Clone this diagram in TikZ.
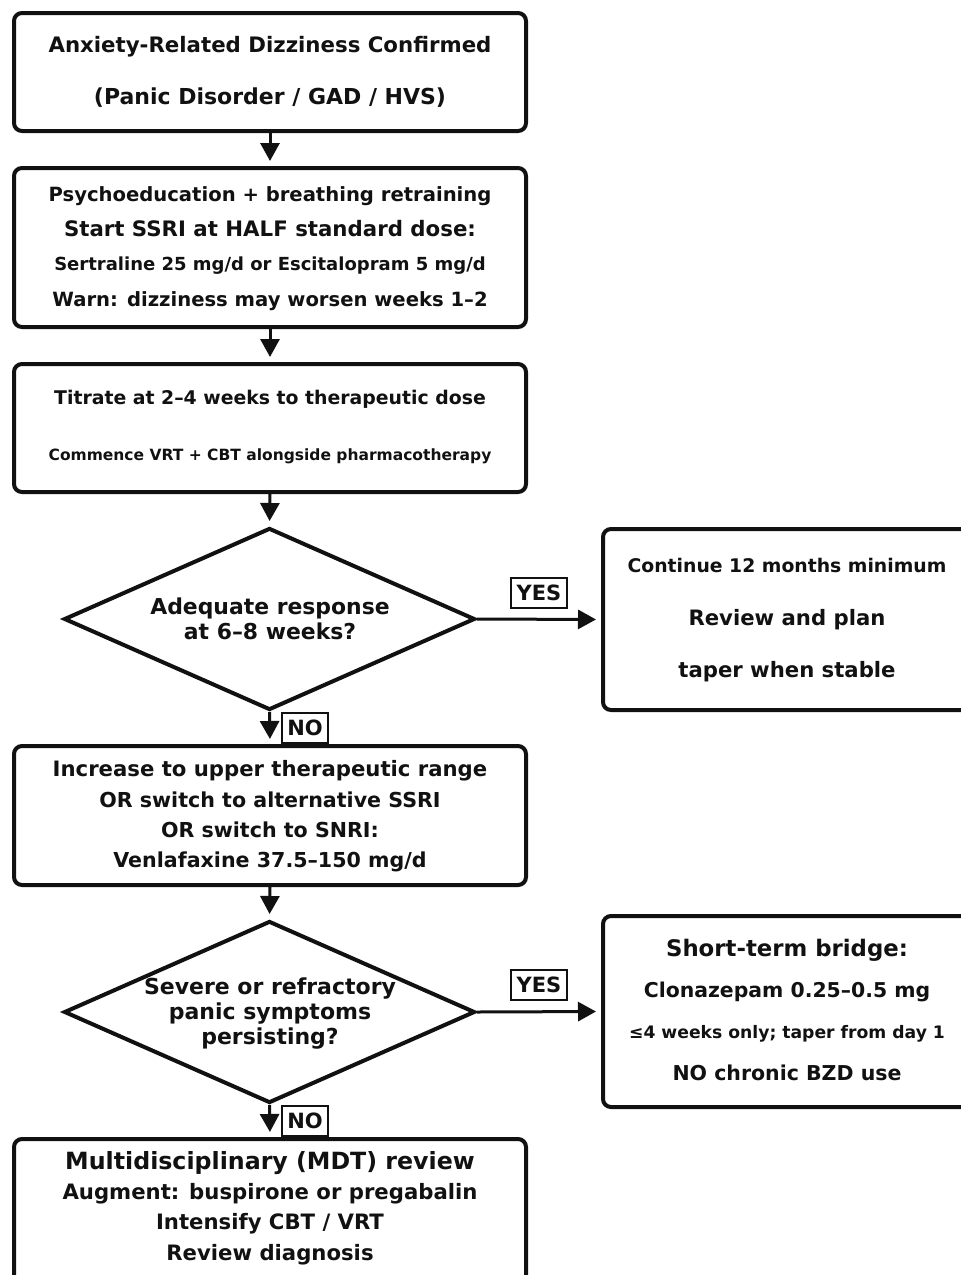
\documentclass[tikz,border=0pt]{standalone}
\usepackage{fontspec}
\setmainfont{DejaVu Sans}
\usetikzlibrary{arrows.meta,shapes.geometric}
\definecolor{ink}{HTML}{111111}
\newcommand{\fs}[1]{\fontsize{#1}{#1}\selectfont}
\begin{document}
\begin{tikzpicture}[x=1pt,y=-1pt,
 box/.style={draw=ink, line width=4pt, rounded corners=8pt, rectangle, fill=white, inner sep=0pt},
 dia/.style={diamond, draw=ink, line width=4pt, inner sep=0pt, fill=white},
 txt/.style={text=ink, inner sep=0pt, anchor=base, font=\bfseries\fs{#1}, yshift=-0.365*#1pt},
 arr/.style={draw=ink, line width=3pt, -{Triangle[length=18pt,width=19pt]}, shorten >=5pt},
 tag/.style={draw=ink, line width=2.5pt, fill=white, inner sep=0pt}
]
\useasboundingbox (0,0) rectangle (961,1275);
\clip (0,0) rectangle (961,1275);
\fill[white] (0,0) rectangle (961,1275);

% boxes
\node[box, minimum width=512pt, minimum height=118pt] (b1) at (270,72) {};
\node[box, minimum width=512pt, minimum height=159pt] (b2) at (270,247.5) {};
\node[box, minimum width=512pt, minimum height=128pt] (b3) at (270,428) {};
\node[dia, minimum width=411pt, minimum height=182pt] (d1) at (269.5,619) {};
\node[box, minimum width=368pt, minimum height=181pt] (r1) at (787,619.5) {};
\node[box, minimum width=512pt, minimum height=139pt] (b4) at (270,815.5) {};
\node[dia, minimum width=411pt, minimum height=182pt] (d2) at (269.5,1012) {};
\node[box, minimum width=368pt, minimum height=191pt] (r2) at (787,1011.5) {};
\node[box, minimum width=512pt, minimum height=152pt] (b5) at (270,1215) {};

% texts
\node[txt=21.3] (t11) at (270,45) {Anxiety-Related Dizziness Confirmed};
\node[txt=22] (t12) at (270,96) {(Panic Disorder / GAD / HVS)};

\node[txt=19.6] (t21) at (270,194) {Psychoeducation + breathing retraining};
\node[txt=21.3] (t22) at (270,229) {Start SSRI at HALF standard dose:};
\node[txt=18] (t23) at (270,264) {Sertraline 25 mg/d or Escitalopram 5 mg/d};
\node[txt=19.6] (t24) at (270,299) {Warn: dizziness may worsen weeks 1–2};

\node[txt=18.85] (t31) at (270,398) {Titrate at 2–4 weeks to therapeutic dose};
\node[txt=15.5] (t32) at (270,455) {Commence VRT + CBT alongside pharmacotherapy};

\node[txt=21.9] (td11) at (270,606) {Adequate response};
\node[txt=21.9] (td12) at (270,631) {at 6–8 weeks?};

\node[txt=18.8] (tr11) at (787,566) {Continue 12 months minimum};
\node[txt=21.2] (tr12) at (787,618) {Review and plan};
\node[txt=21.2] (tr13) at (787,670) {taper when stable};

\node[txt=21.2] (t41) at (270,769) {Increase to upper therapeutic range};
\node[txt=20.6] (t42) at (270,800) {OR switch to alternative SSRI};
\node[txt=20.6] (t43) at (270,830) {OR switch to SNRI:};
\node[txt=20.6] (t44) at (270,860) {Venlafaxine 37.5–150 mg/d};

\node[txt=22] (td21) at (270,986) {Severe or refractory};
\node[txt=22] (td22) at (270,1011) {panic symptoms};
\node[txt=22] (td23) at (270,1036) {persisting?};

\node[txt=22.8] (tr21) at (787,948) {Short-term bridge:};
\node[txt=20.4] (tr22) at (787,990) {Clonazepam 0.25–0.5 mg};
\node[txt=17.2] (tr23) at (787,1032) {≤4 weeks only; taper from day 1};
\node[txt=20.5] (tr24) at (787,1073) {NO chronic BZD use};

\node[txt=23.7] (t51) at (270,1161) {Multidisciplinary (MDT) review};
\node[txt=21.2] (t52) at (270,1192) {Augment: buspirone or pregabalin};
\node[txt=21.2] (t53) at (270,1222) {Intensify CBT / VRT};
\node[txt=21.2] (t54) at (270,1253) {Review diagnosis};

% arrows
\draw[arr] (b1.south) -- (b2.north);
\draw[arr] (b2.south) -- (b3.north);
\draw[arr] (b3.south) -- (d1.north);
\draw[arr] (d1.east) -- (r1.west);
\draw[arr] (d1.south) -- (b4.north);
\draw[arr] (b4.south) -- (d2.north);
\draw[arr] (d2.east) -- (r2.west);
\draw[arr] (d2.south) -- (b5.north);

% tags
\node[tag, minimum width=56pt, minimum height=30pt] (y1) at (539,593) {};
\node[txt=21] (y1t) at (539,593) {YES};
\node[tag, minimum width=46pt, minimum height=30pt] (n1) at (305,728) {};
\node[txt=21] (n1t) at (305,728) {NO};
\node[tag, minimum width=56pt, minimum height=30pt] (y2) at (539,985) {};
\node[txt=21] (y2t) at (539,985) {YES};
\node[tag, minimum width=46pt, minimum height=30pt] (n2) at (305,1121) {};
\node[txt=21] (n2t) at (305,1121) {NO};
\end{tikzpicture}
\end{document}
